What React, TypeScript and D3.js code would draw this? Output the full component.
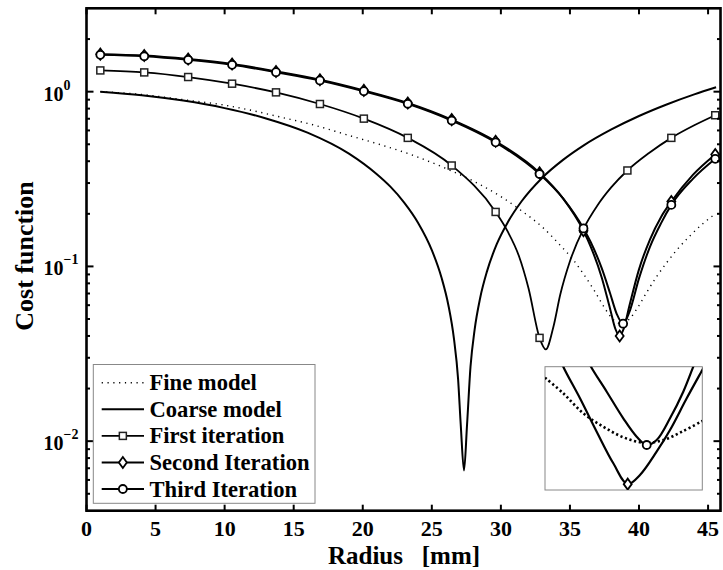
import React from 'react';
import * as d3 from 'd3';

const W = 723;
const H = 570;

// ---- data ----
const xTicks = [0, 5, 10, 15, 20, 25, 30, 35, 40, 45];
const yMajor = [0.01, 0.1, 1];
const yExp = ['\u22122', '\u22121', '0'];

const markerX = [1, 4.18, 7.36, 10.54, 13.72, 16.9, 20.08, 23.26, 26.44, 29.62, 32.8, 35.98, 39.16, 42.34, 45.52];

const fineX = [1, 4.2, 7, 9.9, 12, 14, 16.5, 18.8, 21, 23.65, 26, 28.5, 30, 31.5, 33, 34.3, 35.24, 36, 36.8, 37.5, 38.1, 38.7, 39.3, 39.9, 40.6, 41.3, 42.0, 42.73, 43.7, 44.6, 45.52];
const fineY = [1.0, 0.96, 0.9, 0.84, 0.78, 0.717, 0.643, 0.568, 0.505, 0.432, 0.364, 0.294, 0.251, 0.208, 0.168, 0.132, 0.109, 0.09, 0.072, 0.058, 0.05, 0.047, 0.05, 0.058, 0.072, 0.088, 0.105, 0.124, 0.15, 0.175, 0.2];

const coarseX = [1, 4, 7, 10, 13, 16, 19, 21, 22, 23, 24, 25, 25.7, 26.2, 26.6, 26.9, 27.1, 27.33, 27.55, 27.8, 28.1, 28.5, 29, 29.7, 30.5, 31.5, 33, 34.5, 36, 38, 40, 42, 44, 45.58];
const coarseY = [1.0, 0.955, 0.889, 0.805, 0.703, 0.583, 0.442, 0.338, 0.286, 0.232, 0.178, 0.124, 0.0864, 0.06, 0.0387, 0.0228, 0.0122, 0.0068, 0.0124, 0.0266, 0.0435, 0.066, 0.094, 0.134, 0.179, 0.236, 0.322, 0.407, 0.493, 0.608, 0.726, 0.845, 0.965, 1.06];

const firstMarkX = markerX;
const firstMarkY = [1.323, 1.289, 1.213, 1.111, 0.991, 0.85, 0.701, 0.544, 0.378, 0.205, 0.039, 0.164, 0.354, 0.544, 0.733];
const firstExtraX = [30.5, 31.3, 32.0, 33.25, 33.8, 34.3, 35.0, 37.0, 38.0, 40.7, 44.0];
const firstExtraY = [0.158, 0.115, 0.075, 0.0335, 0.045, 0.069, 0.107, 0.224, 0.284, 0.444, 0.642];

const secondMarkX = [1, 4.18, 7.36, 10.54, 13.72, 16.9, 20.08, 23.26, 26.44, 29.62, 32.8, 35.98, 38.6, 42.34, 45.52];
const secondMarkY = [1.64, 1.61, 1.537, 1.44, 1.306, 1.171, 1.017, 0.862, 0.692, 0.52, 0.343, 0.16, 0.04, 0.235, 0.437];
const secondExtraX = [34.5, 36.5, 37.3, 37.9, 38.3, 38.9, 39.3, 40.0, 40.8, 41.6, 43.9];
const secondExtraY = [0.245, 0.13, 0.0865, 0.0575, 0.0437, 0.0442, 0.0593, 0.0962, 0.143, 0.192, 0.334];

const thirdMarkX = [1, 4.18, 7.36, 10.54, 13.72, 16.9, 20.08, 23.26, 26.44, 29.62, 32.8, 35.98, 38.85, 42.34, 45.52];
const thirdMarkY = [1.625, 1.595, 1.522, 1.425, 1.293, 1.16, 1.006, 0.853, 0.684, 0.513, 0.338, 0.165, 0.047, 0.225, 0.413];
const thirdExtraX = [34.5, 36.5, 37.3, 37.9, 38.4, 39.3, 40.0, 40.8, 41.6, 43.9];
const thirdExtraY = [0.245, 0.138, 0.0977, 0.0705, 0.0532, 0.0547, 0.0854, 0.13, 0.177, 0.317];

// inset (zoom on the minima)
const insetFineX = [37.5, 37.744, 38.011, 38.278, 38.545, 38.812, 39.079, 39.346, 39.6];
const insetFineY = [0.05813, 0.05547, 0.05206, 0.04978, 0.04798, 0.04706, 0.04751, 0.04905, 0.05075];
const insetSecondX = [37.70, 37.744, 37.967, 38.19, 38.412, 38.604, 38.768, 38.99, 39.169, 39.392, 39.6, 39.65];
const insetSecondY = [0.0615, 0.06, 0.05462, 0.04893, 0.04355, 0.04, 0.04155, 0.04552, 0.04922, 0.05462, 0.05944, 0.0606];
const insetThirdX = [38.07, 38.114, 38.324, 38.545, 38.724, 38.858, 38.991, 39.169, 39.346, 39.48, 39.52];
const insetThirdY = [0.0612, 0.06, 0.05574, 0.05121, 0.04808, 0.04666, 0.04751, 0.05121, 0.05574, 0.06, 0.0612];
const insetSecondMin = [38.604, 0.04];
const insetThirdMin = [38.858, 0.04666];

const legendLabels = ['Fine model', 'Coarse model', 'First iteration', 'Second Iteration', 'Third Iteration'];

function merge(ax: number[], ay: number[], bx: number[], by: number[]): [number, number][] {
  const pts: [number, number][] = [];
  ax.forEach((v, i) => pts.push([v, ay[i]]));
  bx.forEach((v, i) => pts.push([v, by[i]]));
  pts.sort((a, b) => a[0] - b[0]);
  return pts;
}

const FONT = "'Liberation Serif', 'Times New Roman', serif";

function Square({ cx, cy }: { cx: number; cy: number }) {
  return <rect x={cx - 3.5} y={cy - 3.5} width={7} height={7} fill="#fff" stroke="#222" strokeWidth={1.5} />;
}
function Diamond({ cx, cy }: { cx: number; cy: number }) {
  return <path d={`M${cx},${cy - 5.5}L${cx + 4},${cy}L${cx},${cy + 5.5}L${cx - 4},${cy}Z`} fill="#fff" stroke="#000" strokeWidth={1.8} />;
}
function Circle({ cx, cy }: { cx: number; cy: number }) {
  return <circle cx={cx} cy={cy} r={4} fill="#fff" stroke="#000" strokeWidth={1.8} />;
}

export default function App() {
  const left = 86.5, right = 720.5, top = 8.3, bottom = 510.7;
  const x = d3.scaleLinear().domain([0, 45.9]).range([left, right]);
  const y = d3.scaleLog().domain([0.004, 3]).range([bottom, top]);

  const line = d3.line<[number, number]>().x(d => x(d[0])).y(d => y(d[1])).curve(d3.curveMonotoneX);

  const finePts: [number, number][] = fineX.map((v, i) => [v, fineY[i]]);
  const coarsePts: [number, number][] = coarseX.map((v, i) => [v, coarseY[i]]);
  const firstPts = merge(firstMarkX, firstMarkY, firstExtraX, firstExtraY);
  const secondPts = merge(secondMarkX, secondMarkY, secondExtraX, secondExtraY);
  const thirdPts = merge(thirdMarkX, thirdMarkY, thirdExtraX, thirdExtraY);

  // minor ticks
  const minor: number[] = [];
  [0.001, 0.01, 0.1, 1].forEach(d => {
    for (let m = 2; m <= 9; m++) {
      const v = d * m;
      if (v > 0.004 && v < 3) minor.push(v);
    }
  });

  // inset
  const iL = 545, iR = 702.3, iT = 366.7, iB = 490;
  const ix = d3.scaleLinear().domain([37.5, 39.6]).range([iL, iR]);
  const iy = d3.scaleLinear().domain([0.039, 0.06]).range([iB, iT]);
  const iline = d3.line<[number, number]>().x(d => ix(d[0])).y(d => iy(d[1])).curve(d3.curveCatmullRom.alpha(0.5));
  const insetFine: [number, number][] = insetFineX.map((v, i) => [v, insetFineY[i]]);
  const insetSecond: [number, number][] = insetSecondX.map((v, i) => [v, insetSecondY[i]]);
  const insetThird: [number, number][] = insetThirdX.map((v, i) => [v, insetThirdY[i]]);

  // legend
  const lgL = 93.3, lgR = 315, lgT = 364.5, lgB = 503.3;
  const rowY = [382.7, 409.3, 435.9, 462.5, 489];
  const sx0 = 101.7, sx1 = 144, sxm = (sx0 + sx1) / 2;

  return (
    <svg width={W} height={H} style={{ position: 'absolute', left: 0, top: 0, background: '#fff' }} fontFamily={FONT}>
      <defs>
        <clipPath id="plotclip">
          <rect x={left} y={top} width={right - left} height={bottom - top} />
        </clipPath>
        <clipPath id="insetclip">
          <rect x={iL} y={iT} width={iR - iL} height={iB - iT} />
        </clipPath>
      </defs>
      <rect x={0} y={0} width={W} height={H} fill="#fff" />

      <g clipPath="url(#plotclip)">
        <path d={line(finePts) || ''} fill="none" stroke="#000" strokeWidth={1.4} strokeDasharray="1.2 4.6" />
        <path d={line(coarsePts) || ''} fill="none" stroke="#000" strokeWidth={2} />
        <path d={line(firstPts) || ''} fill="none" stroke="#000" strokeWidth={1.8} />
        <path d={line(secondPts) || ''} fill="none" stroke="#000" strokeWidth={2} />
        <path d={line(thirdPts) || ''} fill="none" stroke="#000" strokeWidth={2} />
        {firstMarkX.map((v, i) => <Square key={'s' + i} cx={x(v)} cy={y(firstMarkY[i])} />)}
        {secondMarkX.map((v, i) => <Diamond key={'d' + i} cx={x(v)} cy={y(secondMarkY[i])} />)}
        {thirdMarkX.map((v, i) => <Circle key={'c' + i} cx={x(v)} cy={y(thirdMarkY[i])} />)}
      </g>

      {/* axes frame */}
      <rect x={left} y={top} width={right - left} height={bottom - top} fill="none" stroke="#000" strokeWidth={2.6} />

      {/* x ticks */}
      {xTicks.map(t => (
        <g key={'xt' + t}>
          <line x1={x(t)} x2={x(t)} y1={bottom} y2={bottom - 6} stroke="#000" strokeWidth={2} />
          <line x1={x(t)} x2={x(t)} y1={top} y2={top + 6} stroke="#000" strokeWidth={2} />
          <text x={x(t)} y={536} textAnchor="middle" fontSize={22} fontWeight="bold">{t}</text>
        </g>
      ))}

      {/* y ticks */}
      {yMajor.map((t, i) => (
        <g key={'yt' + t}>
          <line x1={left} x2={left + 7} y1={y(t)} y2={y(t)} stroke="#000" strokeWidth={2} />
          <line x1={right} x2={right - 7} y1={y(t)} y2={y(t)} stroke="#000" strokeWidth={2} />
          <text x={43.5} y={y(t) + 9} fontSize={20} fontWeight="bold">10</text>
          <text x={63.5} y={y(t) - 2} fontSize={14} fontWeight="bold">{yExp[i]}</text>
        </g>
      ))}
      {minor.map(t => (
        <g key={'ym' + t}>
          <line x1={left} x2={left + 3.5} y1={y(t)} y2={y(t)} stroke="#000" strokeWidth={2} />
          <line x1={right} x2={right - 3.5} y1={y(t)} y2={y(t)} stroke="#000" strokeWidth={2} />
        </g>
      ))}

      {/* axis titles */}
      <text x={404} y={563.5} textAnchor="middle" fontSize={25} fontWeight="bold" xmlSpace="preserve" style={{ whiteSpace: 'pre' }}>{'Radius   [mm]'}</text>
      <text transform="translate(33,256) rotate(-90)" textAnchor="middle" fontSize={26} fontWeight="bold">Cost function</text>

      {/* legend */}
      <rect x={lgL} y={lgT} width={lgR - lgL} height={lgB - lgT} fill="#fff" stroke="#888" strokeWidth={1} />
      <line x1={sx0} x2={sx1} y1={rowY[0]} y2={rowY[0]} stroke="#000" strokeWidth={1.4} strokeDasharray="1.2 4.6" />
      <line x1={sx0} x2={sx1} y1={rowY[1]} y2={rowY[1]} stroke="#000" strokeWidth={2} />
      <line x1={sx0} x2={sx1} y1={rowY[2]} y2={rowY[2]} stroke="#000" strokeWidth={1.8} />
      <Square cx={sxm} cy={rowY[2]} />
      <line x1={sx0} x2={sx1} y1={rowY[3]} y2={rowY[3]} stroke="#000" strokeWidth={2} />
      <Diamond cx={sxm} cy={rowY[3]} />
      <line x1={sx0} x2={sx1} y1={rowY[4]} y2={rowY[4]} stroke="#000" strokeWidth={2} />
      <Circle cx={sxm} cy={rowY[4]} />
      {legendLabels.map((s, i) => (
        <text key={'lg' + i} x={149.5} y={rowY[i] + 7.5} fontSize={22.6} fontWeight="bold">{s}</text>
      ))}

      {/* inset */}
      <rect x={iL} y={iT} width={iR - iL} height={iB - iT} fill="#fff" stroke="#888" strokeWidth={1} />
      <g clipPath="url(#insetclip)">
        <path d={iline(insetFine) || ''} fill="none" stroke="#000" strokeWidth={2.6} strokeDasharray="2.2 2.6" />
        <path d={iline(insetSecond) || ''} fill="none" stroke="#000" strokeWidth={2.2} />
        <path d={iline(insetThird) || ''} fill="none" stroke="#000" strokeWidth={2.2} />
        <Diamond cx={ix(insetSecondMin[0])} cy={iy(insetSecondMin[1])} />
        <Circle cx={ix(insetThirdMin[0])} cy={iy(insetThirdMin[1])} />
      </g>
    </svg>
  );
}
